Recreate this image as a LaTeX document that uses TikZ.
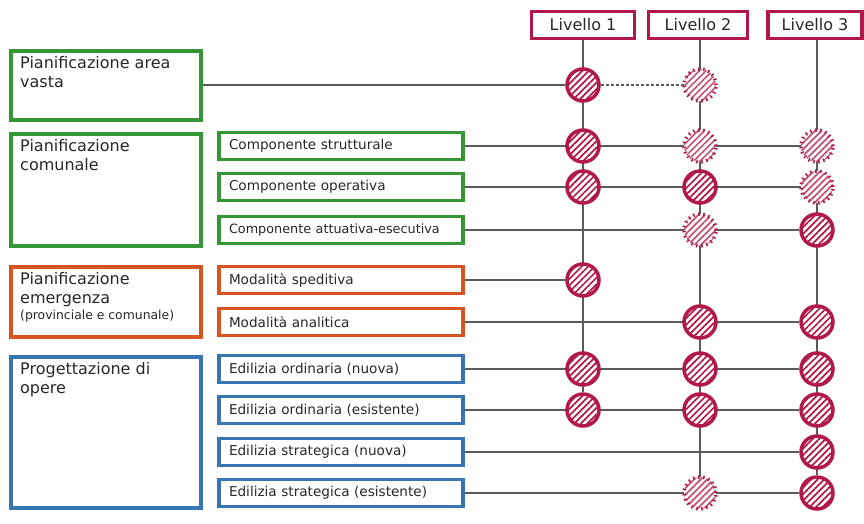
\documentclass[tikz,border=0pt]{standalone}
\usepackage{fontspec}
\setmainfont{DejaVu Sans}
\usetikzlibrary{patterns.meta,backgrounds}

\definecolor{verde}{RGB}{52,150,52}
\definecolor{arancio}{RGB}{214,84,34}
\definecolor{blu}{RGB}{56,118,178}
\definecolor{cremisi}{RGB}{178,24,72}
\definecolor{testo}{RGB}{40,40,40}
\definecolor{grigio}{RGB}{90,90,90}

\begin{document}
\begin{tikzpicture}[x=1pt,y=-1pt,
  every node/.style={text=testo},
  gruppo/.style={draw=#1,line width=3.5pt,anchor=north west,minimum width=190pt,inner sep=0pt},
  titolo/.style={label={[anchor=north west,inner sep=0pt,xshift=11pt,yshift=-7pt,align=left,text=testo,font=\fontsize{16}{19}\selectfont]north west:#1}},
  voce/.style={draw=#1,line width=3.5pt,minimum width=244pt,minimum height=27pt,text width=224pt,inner xsep=10pt,inner ysep=0pt,align=left,font=\fontsize{13.6}{16}\selectfont},
  livello/.style={draw=cremisi,line width=3.5pt,minimum height=27pt,font=\fontsize{16}{19}\selectfont},
  cerchio/.style={circle,minimum size=32pt,inner sep=0pt,preaction={fill=white},
    pattern={Lines[angle=45,distance=4.6pt,line width=1.7pt]},pattern color=#1},
  pieno/.style={cerchio=cremisi,draw=cremisi,line width=3.5pt},
  puntini/.style={cerchio=cremisi!75,postaction={draw=cremisi,line width=3.5pt,dash pattern=on 1.5pt off 3.6pt}},
  filo/.style={draw=grigio,line width=1.2pt}]
\useasboundingbox (0,0) rectangle (864,523);

% gruppi a sinistra
\node[gruppo=verde,minimum height=69pt,titolo={Pianificazione area\\vasta}] (vasta) at (9,49) {};
\node[gruppo=verde,minimum height=112pt,titolo={Pianificazione\\comunale}] (comunale) at (9,132) {};
\node[gruppo=arancio,minimum height=70pt,titolo={Pianificazione\\emergenza\\[-3pt]{\fontsize{12.4}{15}\selectfont(provinciale e comunale)}}] (emergenza) at (9,265) {};
\node[gruppo=blu,minimum height=151pt,titolo={Progettazione di\\opere}] (opere) at (9,355) {};

% voci
\node[voce=verde] (strutturale) at (341,146) {Componente strutturale};
\node[voce=verde] (operativa) at (341,187) {Componente operativa};
\node[voce=verde] (attuativa) at (341,230) {\fontsize{12.8}{15}\selectfont Componente attuativa-esecutiva};
\node[voce=arancio] (speditiva) at (341,280) {Modalità speditiva};
\node[voce=arancio] (analitica) at (341,322) {Modalità analitica};
\node[voce=blu] (ordnuova) at (341,369) {Edilizia ordinaria (nuova)};
\node[voce=blu] (ordesist) at (341,410) {Edilizia ordinaria (esistente)};
\node[voce=blu] (strnuova) at (341,452) {Edilizia strategica (nuova)};
\node[voce=blu] (stresist) at (341,493) {Edilizia strategica (esistente)};

% livelli
\node[livello,minimum width=103pt] (liv1) at (583,25) {Livello 1};
\node[livello,minimum width=99pt] (liv2) at (698,25) {Livello 2};
\node[livello,minimum width=94pt] (liv3) at (815,25) {Livello 3};

% cerchi
\node[pieno] (a1) at (583,85) {};
\node[puntini] (a2) at (700,85) {};
\node[pieno] (b1) at (583,146) {};
\node[puntini] (b2) at (700,146) {};
\node[puntini] (b3) at (817,146) {};
\node[pieno] (c1) at (583,187) {};
\node[pieno] (c2) at (700,187) {};
\node[puntini] (c3) at (817,187) {};
\node[puntini] (d2) at (700,230) {};
\node[pieno] (d3) at (817,230) {};
\node[pieno] (e1) at (583,280) {};
\node[pieno] (f2) at (700,322) {};
\node[pieno] (f3) at (817,322) {};
\node[pieno] (g1) at (583,369) {};
\node[pieno] (g2) at (700,369) {};
\node[pieno] (g3) at (817,369) {};
\node[pieno] (h1) at (583,410) {};
\node[pieno] (h2) at (700,410) {};
\node[pieno] (h3) at (817,410) {};
\node[pieno] (i3) at (817,452) {};
\node[puntini] (j2) at (700,493) {};
\node[pieno] (j3) at (817,493) {};

\begin{scope}[on background layer]
\draw[filo] (liv1) -- (h1);
\draw[filo] (liv2.south -| j2) -- (j2);
\draw[filo] (liv3.south -| j3) -- (j3);
\draw[filo] (vasta.east |- a1) -- (a1);
\draw[filo,dash pattern=on 3pt off 2pt] (a1) -- (a2);
\draw[filo] (strutturale) -- (b3);
\draw[filo] (operativa) -- (c3);
\draw[filo] (attuativa) -- (d3);
\draw[filo] (speditiva) -- (e1);
\draw[filo] (analitica) -- (f3);
\draw[filo] (ordnuova) -- (g3);
\draw[filo] (ordesist) -- (h3);
\draw[filo] (strnuova) -- (i3);
\draw[filo] (stresist) -- (j3);
\end{scope}
\end{tikzpicture}
\end{document}
